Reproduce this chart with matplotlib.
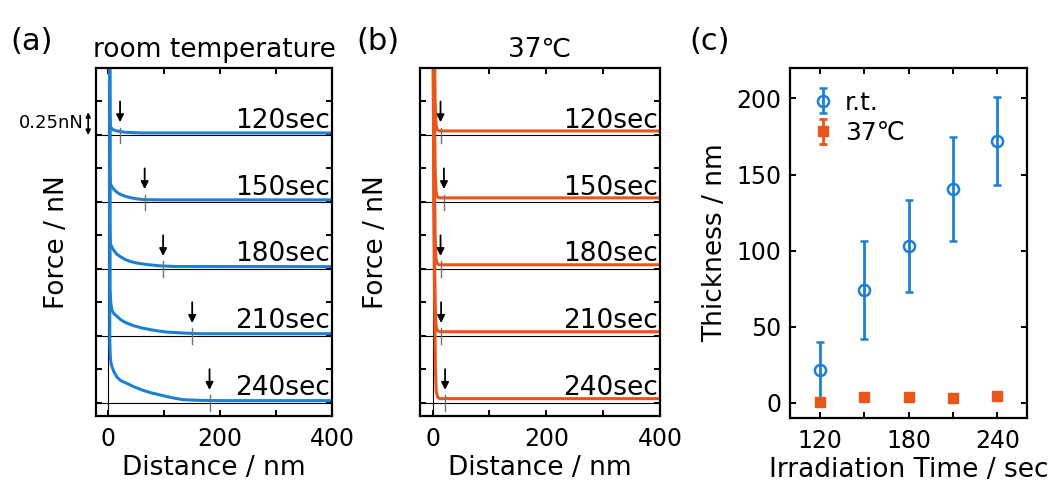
import matplotlib.pyplot as plt
from matplotlib.ticker import MultipleLocator

plt.rcParams['font.family'] = ['DejaVu Sans', 'Noto Sans CJK JP']

BLUE = '#1e80d2'
ORANGE = '#e9561a'

# ---- force curves, room temperature (distance nm, force nN above baseline)
times = ['120sec', '150sec', '180sec', '210sec', '240sec']
offsets = [2.0, 1.5, 1.0, 0.5, 0.0]

rt_dist = [
    [2, 2.5, 4, 8, 15, 30, 60, 400],
    [2, 2.8, 3.6, 6, 9.5, 15, 21, 30, 39, 50, 63, 90, 400],
    [2, 2.8, 3.6, 6, 9.5, 15, 21, 30, 39, 50, 63, 78, 93, 120, 400],
    [2, 3, 4.5, 6.5, 10, 15.5, 22, 30, 45, 60, 75, 90, 105, 134, 164, 200,
     400],
    [2, 2.6, 3.5, 5, 6.5, 10, 15.5, 22, 30, 45, 60, 75, 90, 105, 120, 134,
     164, 200, 400],
]
rt_force = [
    [3.0, 0.15, 0.06, 0.04, 0.03, 0.02, 0.015, 0.015],
    [3.0, 0.25, 0.14, 0.115, 0.095, 0.073, 0.057, 0.042, 0.032, 0.023,
     0.017, 0.015, 0.015],
    [3.0, 0.3, 0.19, 0.165, 0.14, 0.11, 0.092, 0.07, 0.055, 0.044, 0.035,
     0.028, 0.022, 0.017, 0.016],
    [3.0, 0.35, 0.24, 0.19, 0.165, 0.145, 0.12, 0.10, 0.075, 0.058, 0.045,
     0.035, 0.027, 0.02, 0.015, 0.015, 0.015],
    [3.0, 0.47, 0.345, 0.29, 0.27, 0.23, 0.19, 0.165, 0.15, 0.12, 0.095,
     0.075, 0.06, 0.045, 0.032, 0.022, 0.017, 0.015, 0.015],
]
rt_arrow = [21, 65, 98, 150, 181]

# ---- force curves, 37 C
hot_dist = [
    [0.0, 2.5, 4.5, 6.0, 8, 12, 400],
    [0.0, 2.5, 4.5, 6.0, 8, 12, 400],
    [0.0, 2.5, 4.5, 6.0, 8, 12, 400],
    [0.0, 2.5, 4.5, 6.0, 8, 12, 400],
    [0.5, 3.0, 5.0, 6.5, 9, 13, 400],
]
hot_force = [
    [3.0, 1.0, 0.25, 0.08, 0.04, 0.03, 0.03],
    [3.0, 1.0, 0.25, 0.08, 0.04, 0.03, 0.03],
    [3.0, 1.0, 0.25, 0.08, 0.04, 0.03, 0.03],
    [3.0, 1.0, 0.25, 0.08, 0.04, 0.03, 0.03],
    [3.0, 1.0, 0.25, 0.08, 0.04, 0.03, 0.03],
]
hot_arrow = [14, 20, 14, 15, 22]

# ---- thickness vs irradiation time
irr_time = [120, 150, 180, 210, 240]
thick_rt = [21.5, 74, 103, 140.5, 172]
err_rt = [18.5, 32, 30, 34, 29]
thick_37 = [0.5, 3.5, 3.5, 3.2, 4.5]
err_37 = [1.0, 1.0, 1.0, 1.0, 1.0]


def style_axes(ax):
    for s in ax.spines.values():
        s.set_linewidth(1.6)
    ax.tick_params(which='both', direction='in', top=True, right=True,
                   length=4, width=1.4, labelsize=17, pad=8)


def force_panel(ax, dists, forces, arrows, color, title):
    for i in range(len(times)):
        off = offsets[i]
        ax.axhline(off, color='k', lw=0.8, zorder=1)
        ax.plot(dists[i], [f + off for f in forces[i]], color=color, lw=2.2,
                zorder=2, solid_joinstyle='round')
        ax.annotate('', xy=(arrows[i], off + 0.095),
                    xytext=(arrows[i], off + 0.25),
                    arrowprops=dict(arrowstyle='-|>', color='k', lw=1.3,
                                    mutation_scale=11, shrinkA=0, shrinkB=0))
        ax.plot([arrows[i], arrows[i]], [off - 0.06, off + 0.055],
                color='0.45', lw=1, zorder=3)
        ax.text(397, off + 0.055, times[i], ha='right', va='baseline',
                fontsize=19)
    ax.axvline(0, color='k', lw=0.8, zorder=1)
    ax.set_xlim(-22, 400)
    ax.set_ylim(-0.1, 2.5)
    ax.set_xticks([0, 100, 200, 300, 400])
    ax.set_xticklabels(['0', '', '200', '', '400'])
    ax.yaxis.set_major_locator(MultipleLocator(0.25))
    ax.set_yticklabels([])
    style_axes(ax)
    ax.set_xlabel('Distance / nm', fontsize=19, labelpad=3)
    ax.set_title(title, fontsize=19, pad=8)


fig = plt.figure(figsize=(10.61, 4.86), dpi=100)
ax1 = fig.add_axes([0.0905, 0.144, 0.2224, 0.716])
ax2 = fig.add_axes([0.3959, 0.144, 0.2262, 0.716])
ax3 = fig.add_axes([0.7446, 0.140, 0.2234, 0.720])

force_panel(ax1, rt_dist, rt_force, rt_arrow, BLUE, 'room temperature')
ax1.set_ylabel('Force / nN', fontsize=19, labelpad=11)
force_panel(ax2, hot_dist, hot_force, hot_arrow, ORANGE, '37℃')
ax2.set_ylabel('Force / nN', fontsize=19, labelpad=14)

# scale bar
ax1.annotate('', xy=(-36, 2.0), xytext=(-36, 2.17), annotation_clip=False,
             arrowprops=dict(arrowstyle='<|-|>', color='k', lw=1.2,
                             mutation_scale=7, shrinkA=0, shrinkB=0))
ax1.text(-44, 2.09, '0.25nN', ha='right', va='center', fontsize=13,
         clip_on=False)

# thickness panel
ax3.errorbar(irr_time, thick_rt, yerr=err_rt, fmt='o', color=BLUE,
             mfc='none', mec=BLUE, ms=8, mew=1.8, elinewidth=2, capsize=3,
             capthick=2, label='r.t.')
ax3.errorbar(irr_time, thick_37, yerr=err_37, fmt='s', color=ORANGE,
             mfc=ORANGE, mec=ORANGE, ms=7, elinewidth=2, capsize=3,
             capthick=2, label='37℃')
ax3.set_xlim(100, 260)
ax3.set_ylim(-10, 220)
ax3.set_xticks(irr_time)
ax3.set_xticklabels(['120', '', '180', '', '240'])
ax3.set_yticks([0, 50, 100, 150, 200])
style_axes(ax3)
ax3.tick_params(axis='y', pad=6)
ax3.set_xlabel('Irradiation Time / sec', fontsize=19, labelpad=3)
ax3.set_ylabel('Thickness / nm', fontsize=19, labelpad=6)
ax3.legend(loc='upper left', frameon=False, fontsize=18, handlelength=0.8,
           handletextpad=0.5, labelspacing=0.25, borderaxespad=0.6,
           borderpad=0.3)

fig.text(0.010, 0.915, '(a)', fontsize=22, va='center')
fig.text(0.336, 0.915, '(b)', fontsize=22, va='center')
fig.text(0.650, 0.915, '(c)', fontsize=22, va='center')

fig.savefig('out.png', dpi=100)
